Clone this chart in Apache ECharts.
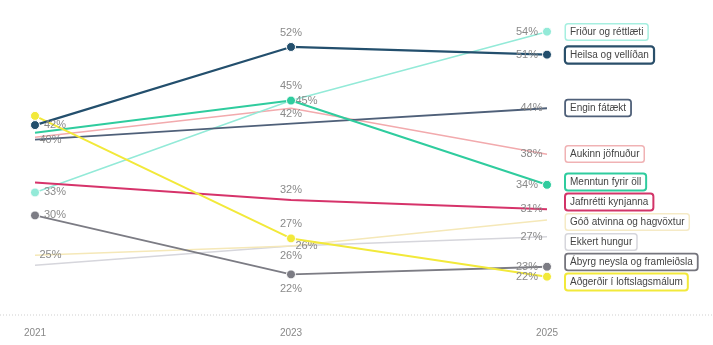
<!DOCTYPE html>
<html><head><meta charset="utf-8">
<script src="https://cdn.jsdelivr.net/npm/echarts@6/dist/echarts.min.js"></script>
<style>html,body{margin:0;padding:0;background:#fff}#c{width:713px;height:345px}</style>
</head><body><div id="c"></div>
<script>
const years = ['2021', '2023', '2025'];
const seriesNames = [
  'Ekkert hungur', 'Góð atvinna og hagvöxtur', 'Aukinn jöfnuður', 'Friður og réttlæti',
  'Engin fátækt', 'Ábyrg neysla og framleiðsla', 'Jafnrétti kynjanna', 'Menntun fyrir öll',
  'Aðgerðir í loftslagsmálum', 'Heilsa og vellíðan'
];
const ekkertHungur = [23.5, 26, 27.2];
const godAtvinna = [24.8, 26, 29.4];
const aukinnJofnudur = [40.2, 44, 38];
const fridur = [33, 45, 54];
const enginFataekt = [39.9, 42, 44];
const abyrgNeysla = [30, 22.3, 23.3];
const jafnretti = [34.3, 32, 30.8];
const menntun = [40.8, 45, 34];
const adgerdir = [43, 27, 22];
const heilsa = [41.8, 52, 51];
const allValues = [ekkertHungur, godAtvinna, aukinnJofnudur, fridur, enginFataekt,
  abyrgNeysla, jafnretti, menntun, adgerdir, heilsa];

// styling
const colors = ['#d6d6dc', '#f5e8b8', '#f2aaad', '#93ead8', '#4f6079', '#7c7c84', '#d6336a', '#2fcc9e', '#f2e93a', '#234f6d'];
const widths = [1.5, 1.5, 1.5, 1.5, 1.8, 1.8, 2, 2, 2, 2.2];
const boxBorder = ['#d6d6dc', '#f5eac6', '#f0b2b4', '#a6efe0', '#4f6079', '#75757d', '#d23468', '#2fcc9e', '#f2e93a', '#2a4f6a'];
const boxBorderW = [1.5, 1.5, 1.5, 1.5, 1.8, 1.8, 2, 2, 2, 2.2];
const markers = [
  [0,0,0],[0,0,0],[0,0,0],[1,0,1],[0,0,0],[1,1,1],[0,0,0],[0,1,1],[1,1,1],[1,1,1]
];
const labelPos = [
  [null,'bottom','left'], ['right','right',null], [null,null,'left'], ['right','right','left'],
  ['right','top','left'], ['right','bottom','left'], [null,'top','left'], [null,'top','left'],
  [null,'top','left'], ['right','top','left']
];

const FONT = '"Liberation Sans", Arial, sans-serif';
const chart = echarts.init(document.getElementById('c'));

const series = seriesNames.map((name, si) => ({
  name, type: 'line', z: 2 + si,
  lineStyle: { color: colors[si], width: widths[si] },
  itemStyle: { color: colors[si], borderColor: '#fff', borderWidth: 1 },
  symbol: 'circle',
  showAllSymbol: true,
  emphasis: { disabled: true },
  labelLayout: { hideOverlap: false },
  data: allValues[si].map((v, i) => ({
    value: v,
    symbolSize: markers[si][i] ? 9 : 0.01,
    label: {
      show: !!labelPos[si][i],
      position: labelPos[si][i] || 'top',
      distance: 4,
      color: '#8a8a8a',
      fontSize: 11,
      fontFamily: FONT,
      formatter: p => Math.round(p.value) + '%'
    }
  }))
}));

chart.setOption({
  animation: false,
  grid: { left: 35, right: 166, top: 24, bottom: 53 },
  xAxis: {
    type: 'category', data: years, boundaryGap: false,
    axisLine: { show: false }, axisTick: { show: false }, splitLine: { show: false },
    axisLabel: { margin: 36, color: '#888', fontSize: 10, fontFamily: FONT }
  },
  yAxis: { type: 'value', min: 20, max: 55, show: false, splitLine: { show: false } },
  series
});

// legend boxes at series ends, spread to avoid overlaps
const gap = 20;
const items = seriesNames.map((name, si) => ({
  si, name,
  target: chart.convertToPixel({ xAxisIndex: 0, yAxisIndex: 0 }, [2, allValues[si][2]])[1]
})).sort((a, b) => a.target - b.target);
let clusters = items.map(it => ({ items: [it] }));
function place(c) {
  const m = c.items.reduce((s, it) => s + it.target, 0) / c.items.length;
  c.start = m - (c.items.length - 1) / 2 * gap;
}
clusters.forEach(place);
let changed = true;
while (changed) {
  changed = false;
  for (let i = 0; i < clusters.length - 1; i++) {
    const a = clusters[i], b = clusters[i + 1];
    if (a.start + a.items.length * gap > b.start) {
      const merged = { items: a.items.concat(b.items) };
      place(merged);
      clusters.splice(i, 2, merged);
      changed = true;
      break;
    }
  }
}
const graphics = [{
  type: 'line', silent: true, z: 0,
  shape: { x1: 0, y1: 315, x2: 713, y2: 315 },
  style: { stroke: '#cfcfcf', lineWidth: 1, lineDash: [1, 2] }
}];
clusters.forEach(c => c.items.forEach((it, k) => {
  const y = c.start + k * gap;
  graphics.push({
    type: 'text', x: 566, y: Math.round(y), z: 50,
    style: {
      text: it.name, font: '10px ' + FONT, fill: '#444',
      verticalAlign: 'middle', align: 'left',
      backgroundColor: '#fff', borderColor: boxBorder[it.si], borderWidth: boxBorderW[it.si],
      borderRadius: 2, padding: [3, 4, 2, 4]
    }
  });
}));
chart.setOption({ graphic: graphics });
</script></body></html>
